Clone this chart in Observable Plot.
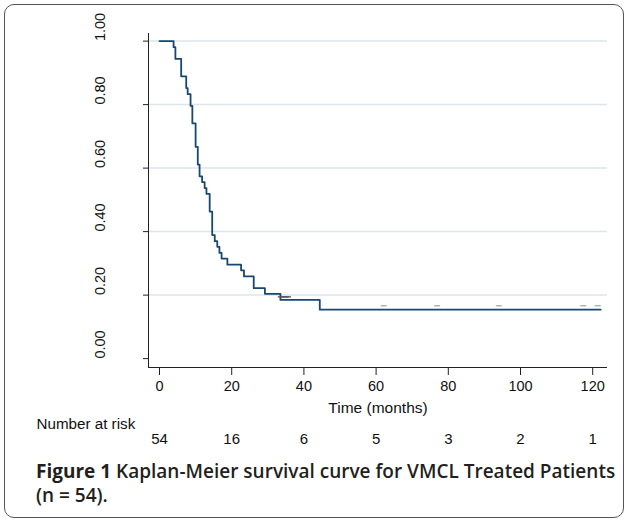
<!DOCTYPE html>
<html>
<head>
<meta charset="utf-8">
<script src="https://cdn.jsdelivr.net/npm/d3@7"></script>
<script src="https://cdn.jsdelivr.net/npm/@observablehq/plot@0.6"></script>
<style>
  html, body { margin: 0; padding: 0; background: #fff; }
  #wrap { position: relative; width: 627px; height: 522px; overflow: hidden; }
  #box { position: absolute; left: 4px; top: 4px; width: 620px; height: 514px;
         border: 1px solid #555; border-radius: 10px; box-sizing: border-box; }
  #chart { position: absolute; left: 0; top: 0; }
  #caption { position: absolute; left: 36px; top: 459px; width: 590px;
             font-family: "Open Sans", "Noto Sans", sans-serif; font-size: 19px;
             line-height: 24px; font-weight: 600; color: #231f20; white-space: nowrap; }
  #caption b { font-weight: 700; }
</style>
</head>
<body>
<div id="wrap">
  <div id="box"></div>
  <div id="chart"></div>
  <div id="caption"><b>Figure 1</b> Kaplan-Meier survival curve for VMCL Treated Patients<br>(n = 54).</div>
</div>
<script>
// Step times (months) and survival level after each step
const stepTimes = [0, 3.9, 4.4, 6.0, 7.4, 7.8, 8.6, 9.1, 10.0, 10.6, 11.1, 11.8, 12.5, 13.0, 13.9, 14.6, 15.3, 16.0, 16.6, 17.2, 18.8, 22.6, 23.4, 26.1, 29.2, 33.5, 44.4, 122.2];
const survival  = [1.0, 0.981, 0.944, 0.889, 0.852, 0.833, 0.796, 0.741, 0.667, 0.611, 0.574, 0.556, 0.537, 0.519, 0.463, 0.389, 0.370, 0.352, 0.333, 0.315, 0.296, 0.278, 0.259, 0.222, 0.204, 0.185, 0.154, 0.154];

// Censored observations
const censorTimes  = [33.6, 34.3, 35.0, 35.6, 62.1, 76.9, 94.0, 117.4, 121.4];
const censorLevels = [0.185, 0.185, 0.185, 0.185, 0.154, 0.154, 0.154, 0.154, 0.154];

// Axes
const xTicks = [0, 20, 40, 60, 80, 100, 120];
const yTicks = [0, 0.2, 0.4, 0.6, 0.8, 1.0];
const xDomain = [-3.05, 124.1];
const yDomain = [-0.028, 1.024];

// Number at risk
const riskTimes  = [0, 20, 40, 60, 80, 100, 120];
const riskCounts = [54, 16, 6, 5, 3, 2, 1];

const curve = stepTimes.map((t, i) => ({t, s: survival[i]}));
const censors = censorTimes.map((t, i) => ({t, s: censorLevels[i]}));

const dash = {
  draw(ctx, size) {
    const r = Math.sqrt(size / Math.PI);
    ctx.moveTo(-r, 0);
    ctx.lineTo(r, 0);
  }
};

const font = "'Liberation Sans', Arial, Helvetica, sans-serif";

const chart = Plot.plot({
  width: 627,
  height: 452,
  marginLeft: 148,
  marginRight: 20,
  marginTop: 33,
  marginBottom: 85,
  style: {fontFamily: font, fontSize: "14px", color: "#111", background: "transparent"},
  x: {domain: xDomain},
  y: {domain: yDomain},
  marks: [
    Plot.gridY(yTicks.filter(v => v > 0), {stroke: "#dbe6eb", strokeOpacity: 1, strokeWidth: 1.5}),
    Plot.ruleX([xDomain[0]], {stroke: "#222", strokeWidth: 1}),
    Plot.ruleY([yDomain[0]], {stroke: "#222", strokeWidth: 1}),
    Plot.axisX({ticks: xTicks, tickSize: 8, tickPadding: 5, label: null, fontSize: 14.5, stroke: "#222"}),
    Plot.axisY({ticks: yTicks, tickSize: 5, tickFormat: () => "", label: null, stroke: "#222"}),
    Plot.text(yTicks, {y: d => d, frameAnchor: "left", dx: -48, rotate: -90, text: d => d.toFixed(2), fontSize: 14.5, fill: "#111"}),
    Plot.line(curve, {x: "t", y: "s", curve: "step-after", stroke: "#1a476f", strokeWidth: 1.8}),
    Plot.dot(censors.filter(d => d.t < 40), {x: "t", y: "s", symbol: dash, r: 3, stroke: "#555", strokeWidth: 1.3, dy: -3}),
    Plot.dot(censors.filter(d => d.t >= 40), {x: "t", y: "s", symbol: dash, r: 3, stroke: "#aaa", strokeWidth: 1.3, dy: -4}),
    Plot.text(["Time (months)"], {frameAnchor: "bottom", dy: 45, text: d => d, fontSize: 15.5, fill: "#111"}),
    Plot.text(["Number at risk"], {frameAnchor: "bottom-left", dx: -112, dy: 61, textAnchor: "start", text: d => d, fontSize: 15.2, fill: "#111"}),
    Plot.text(riskTimes, {x: d => d, frameAnchor: "bottom", dy: 76, text: (d, i) => String(riskCounts[i]), fontSize: 15, fill: "#111"})
  ]
});
document.getElementById("chart").appendChild(chart);
</script>
</body>
</html>
